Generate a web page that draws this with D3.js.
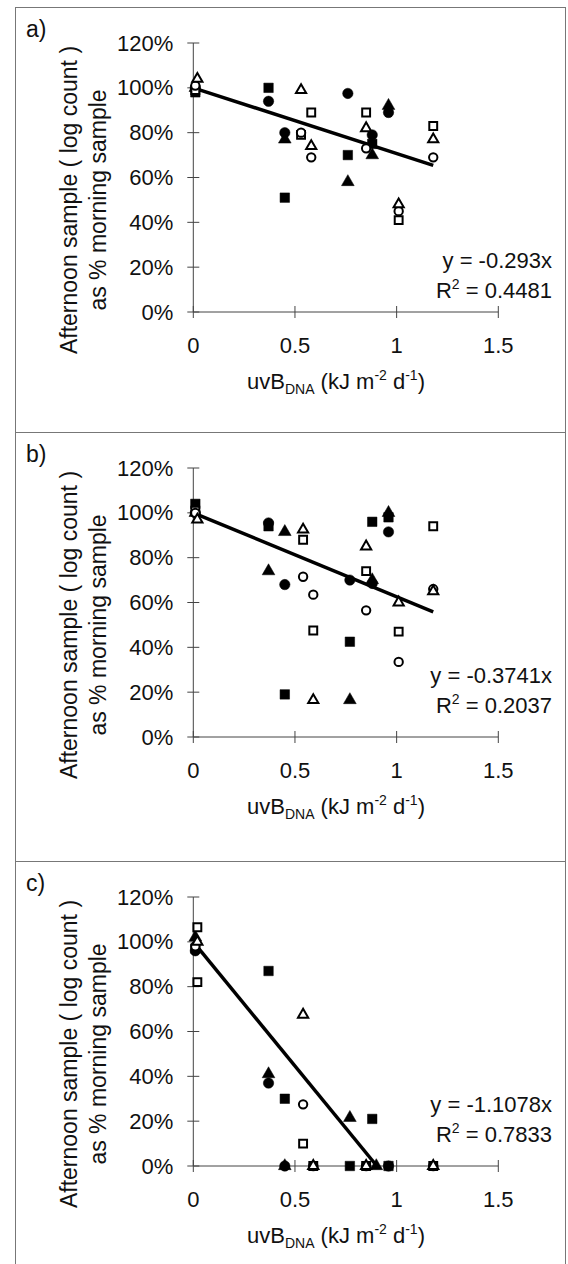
<!DOCTYPE html>
<html>
<head>
<meta charset="utf-8">
<script src="https://cdn.jsdelivr.net/npm/d3@7"></script>
<style>
  body { margin: 0; background: #fff; }
  svg { display: block; font-family: "Liberation Sans", Arial, sans-serif; }
</style>
</head>
<body>
<div id="chart"></div>
<script>
// axis ticks
const xTicks = [0, 0.5, 1, 1.5];
const yTicks = [0, 20, 40, 60, 80, 100, 120];

// panel texts
const panelLabels = ["a)", "b)", "c)"];
const slopes = [-0.293, -0.3741, -1.1078];
const slopeText = ["-0.293x", "-0.3741x", "-1.1078x"];
const rSquared = ["0.4481", "0.2037", "0.7833"];

// points: [marker, uvB_DNA, afternoon as % of morning]
// fs/fc/ft = filled square/circle/triangle, os/oc/ot = open ones
const pointsA = [
  ["fs", 0.01, 98], ["fs", 0.37, 100], ["fs", 0.45, 51], ["fs", 0.76, 70], ["fs", 0.88, 75],
  ["fc", 0.01, 100], ["fc", 0.37, 94], ["fc", 0.45, 80], ["fc", 0.76, 97.5], ["fc", 0.88, 79], ["fc", 0.96, 89],
  ["ft", 0.01, 100], ["ft", 0.45, 77], ["ft", 0.76, 58], ["ft", 0.88, 70], ["ft", 0.96, 92],
  ["os", 0.01, 99], ["os", 0.53, 79], ["os", 0.58, 89], ["os", 0.85, 89], ["os", 1.01, 41], ["os", 1.18, 83],
  ["oc", 0.01, 101], ["oc", 0.53, 80], ["oc", 0.58, 69], ["oc", 0.85, 73], ["oc", 1.01, 45], ["oc", 1.18, 69],
  ["ot", 0.02, 104], ["ot", 0.53, 99], ["ot", 0.58, 74], ["ot", 0.85, 82], ["ot", 1.01, 48], ["ot", 1.18, 77]
];

const pointsB = [
  ["fs", 0.01, 104], ["fs", 0.37, 94], ["fs", 0.45, 19], ["fs", 0.77, 42.5], ["fs", 0.88, 96], ["fs", 0.96, 98],
  ["fc", 0.01, 100], ["fc", 0.37, 95.5], ["fc", 0.45, 68], ["fc", 0.77, 70], ["fc", 0.88, 68.5], ["fc", 0.96, 91.5],
  ["ft", 0.01, 100], ["ft", 0.37, 74], ["ft", 0.45, 91.5], ["ft", 0.77, 16.5], ["ft", 0.88, 70], ["ft", 0.96, 100],
  ["os", 0.01, 101], ["os", 0.54, 88], ["os", 0.59, 47.5], ["os", 0.85, 74], ["os", 1.01, 47], ["os", 1.18, 94],
  ["oc", 0.01, 100], ["oc", 0.54, 71.5], ["oc", 0.59, 63.5], ["oc", 0.85, 56.5], ["oc", 1.01, 33.5], ["oc", 1.18, 66],
  ["ot", 0.02, 97], ["ot", 0.54, 92.5], ["ot", 0.59, 16.5], ["ot", 0.85, 85], ["ot", 1.01, 60], ["ot", 1.18, 65]
];

const pointsC = [
  ["fs", 0.01, 97], ["fs", 0.37, 87], ["fs", 0.45, 30], ["fs", 0.77, 0], ["fs", 0.88, 21], ["fs", 0.96, 0],
  ["fc", 0.01, 96], ["fc", 0.37, 37], ["fc", 0.45, 0], ["fc", 0.96, 0],
  ["ft", 0.01, 102], ["ft", 0.37, 41], ["ft", 0.45, 0], ["ft", 0.77, 21.5], ["ft", 0.9, 0],
  ["os", 0.02, 106.5], ["os", 0.02, 82], ["os", 0.54, 10], ["os", 0.59, 0], ["os", 0.85, 0], ["os", 1.18, 0],
  ["oc", 0.01, 98], ["oc", 0.54, 27.5], ["oc", 0.59, 0], ["oc", 0.85, 0], ["oc", 1.18, 0],
  ["ot", 0.02, 100], ["ot", 0.54, 67.5], ["ot", 0.59, 0], ["ot", 0.85, 0], ["ot", 1.18, 0]
];

const panelPoints = [pointsA, pointsB, pointsC];

const width = 568, height = 1264;
const panelTops = [7, 432, 861];
const eqLift = [[44, 14], [54, 24], [54, 24]];

const svg = d3.select("#chart").append("svg")
  .attr("width", width).attr("height", height)
  .style("background", "white");

// outer frame and dividers
svg.append("rect").attr("x", 15.5).attr("y", 7.5).attr("width", 550).attr("height", 1300)
  .attr("fill", "none").attr("stroke", "#777").attr("stroke-width", 1);
[432, 861].forEach(y => svg.append("line").attr("x1", 15).attr("x2", 566)
  .attr("y1", y + 0.5).attr("y2", y + 0.5).attr("stroke", "#777"));

const x = d3.scaleLinear().domain([0, 1.5]).range([193.3, 498.3]);
const shape = { fs: d3.symbolSquare, fc: d3.symbolCircle, ft: d3.symbolTriangle,
                os: d3.symbolSquare, oc: d3.symbolCircle, ot: d3.symbolTriangle };
const size = { fs: 90, fc: 85, ft: 70, os: 62, oc: 55, ot: 45 };

panelPoints.forEach((pts, i) => {
  const top = panelTops[i];
  const y = d3.scaleLinear().domain([0, 120]).range([top + 305, top + 36]);
  const g = svg.append("g");

  // axes: crossing tick marks
  g.append("line").attr("x1", x(0)).attr("x2", x(1.5)).attr("y1", y(0)).attr("y2", y(0))
    .attr("stroke", "#444").attr("stroke-width", 1);
  g.append("line").attr("x1", x(0)).attr("x2", x(0)).attr("y1", y(0)).attr("y2", y(120))
    .attr("stroke", "#444").attr("stroke-width", 1);
  g.selectAll(".xt").data(xTicks).join("line")
    .attr("x1", d => x(d)).attr("x2", d => x(d))
    .attr("y1", y(0) - 6).attr("y2", y(0) + 6).attr("stroke", "#444");
  g.selectAll(".yt").data(yTicks).join("line")
    .attr("x1", x(0) - 6).attr("x2", x(0) + 6)
    .attr("y1", d => y(d)).attr("y2", d => y(d)).attr("stroke", "#444");

  g.selectAll(".xl").data(xTicks).join("text")
    .attr("x", d => x(d)).attr("y", y(0) + 41)
    .attr("text-anchor", "middle").style("font-size", "22px").attr("fill", "#111")
    .text(d => d);
  g.selectAll(".yl").data(yTicks).join("text")
    .attr("x", x(0) - 20).attr("y", d => y(d) + 7.5)
    .attr("text-anchor", "end").style("font-size", "22px").attr("fill", "#111")
    .text(d => d + "%");

  // panel label
  g.append("text").attr("x", 26).attr("y", top + 30)
    .style("font-size", "23px").attr("fill", "#111").text(panelLabels[i]);

  // y title, two rotated lines
  const yt = g.append("text")
    .attr("transform", `translate(0,${top + 193}) rotate(-90)`)
    .attr("text-anchor", "middle").style("font-size", "23px").attr("fill", "#111");
  yt.append("tspan").attr("x", 0).attr("y", 77).text("Afternoon sample ( log count )");
  yt.append("tspan").attr("x", 0).attr("y", 106).text("as % morning sample");

  // x title
  const xt = g.append("text").attr("x", 336).attr("y", y(0) + 77)
    .attr("text-anchor", "middle").style("font-size", "22px").attr("fill", "#111");
  xt.append("tspan").text("uvB");
  xt.append("tspan").attr("dy", 5).style("font-size", "14px").text("DNA");
  xt.append("tspan").attr("dy", -5).text(" (kJ m");
  xt.append("tspan").attr("dy", -9).style("font-size", "14px").text("-2");
  xt.append("tspan").attr("dy", 9).text(" d");
  xt.append("tspan").attr("dy", -9).style("font-size", "14px").text("-1");
  xt.append("tspan").attr("dy", 9).text(")");

  // trendline forced through 100%
  const maxX = d3.max(pts, d => d[1]);
  const xEnd = Math.min(maxX, -1 / slopes[i]);
  const lineData = [0, xEnd].map(v => [v, 100 * (1 + slopes[i] * v)]);
  g.append("path").datum(lineData)
    .attr("d", d3.line().x(d => x(d[0])).y(d => y(d[1])))
    .attr("stroke", "#000").attr("stroke-width", 3.5).attr("fill", "none");

  // markers
  g.selectAll(".pt").data(pts).join("path")
    .attr("transform", d => `translate(${x(d[1])},${y(d[2])})`)
    .attr("d", d => d3.symbol(shape[d[0]], size[d[0]])())
    .attr("fill", d => d[0][0] === "f" ? "#000" : "#fff")
    .attr("stroke", "#000")
    .attr("stroke-width", d => d[0][0] === "f" ? 0.5 : 2);

  // equation
  g.append("text").attr("x", 552).attr("y", y(0) - eqLift[i][0])
    .attr("text-anchor", "end").style("font-size", "22px").attr("fill", "#111")
    .text("y = " + slopeText[i]);
  const r2 = g.append("text").attr("x", 552).attr("y", y(0) - eqLift[i][1])
    .attr("text-anchor", "end").style("font-size", "22px").attr("fill", "#111");
  r2.append("tspan").text("R");
  r2.append("tspan").attr("dy", -9).style("font-size", "14px").text("2");
  r2.append("tspan").attr("dy", 9).text(" = " + rSquared[i]);
});
</script>
</body>
</html>
